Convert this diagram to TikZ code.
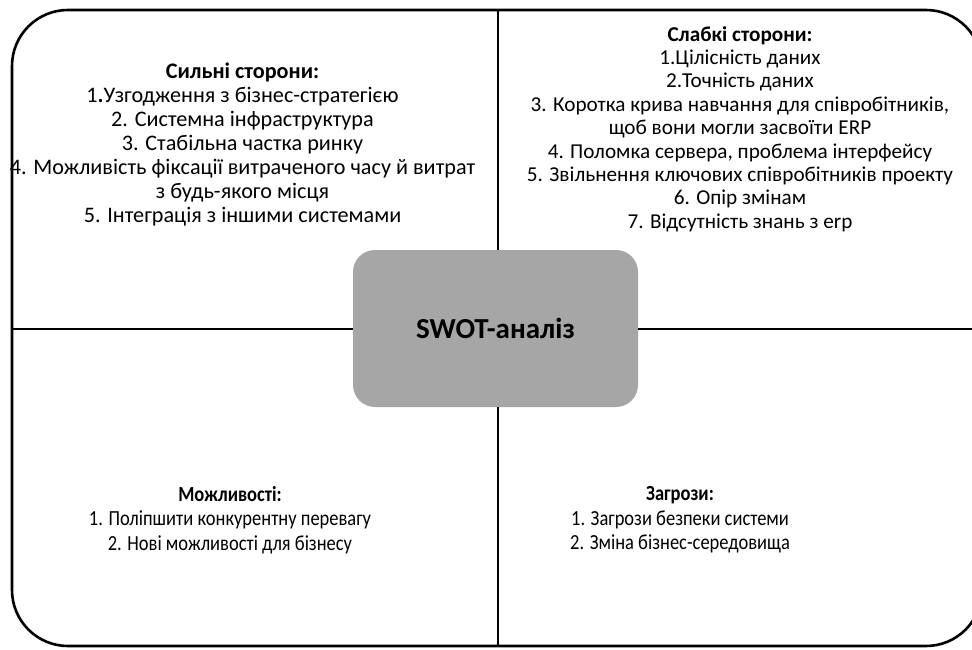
\documentclass[tikz,border=0pt]{standalone}
\usepackage{fontspec}
\setmainfont{Carlito}
\newfontfamily\narrowfont[FakeStretch=0.86]{Carlito}
\definecolor{boxgray}{HTML}{A6A6A6}
\begin{document}
\begin{tikzpicture}[x=1pt,y=-1pt,
  frameline/.style={line width=2.6pt, rounded corners=56pt},
  divider/.style={line width=2.2pt},
  lefttext/.style={align=center, inner sep=0pt, font=\fontsize{22.2}{24}\selectfont},
  righttext/.style={align=center, inner sep=0pt, font=\fontsize{21.2}{23.4}\selectfont},
  narrowtext/.style={align=center, inner sep=0pt, font=\narrowfont\fontsize{21.5}{24.5}\selectfont},
  centerbox/.style={fill=boxgray, rounded corners=22pt, minimum width=285pt,
    minimum height=157pt, inner sep=0pt, font=\bfseries\fontsize{29}{32}\selectfont}]
\useasboundingbox (0,0) rectangle (972,650);

% outer frame (its right side runs past the page edge)
\begin{scope}
  \clip (0,0) rectangle (972,650);
  \draw[frameline] (12,10) rectangle (982,646);
\end{scope}

% central box
\node[centerbox] (swot) at (495.5,328.5) {SWOT-аналіз};

% ends of the dividing lines on the frame
\coordinate (ftop) at (498,10);
\coordinate (fbottom) at (498,646);
\coordinate (fleft) at (12,329);
\coordinate (fright) at (972,329);

\draw[divider] (ftop) -- (ftop |- swot.north);
\draw[divider] (fbottom) -- (fbottom |- swot.south);
\draw[divider] (fleft) -- (fleft -| swot.west);
\draw[divider] (fright) -- (fright -| swot.east);

% quadrant texts
\node[lefttext] (strengths) at (242.5,145) {\textbf{Сильні сторони:}\\
1\textbf{.}Узгодження з бізнес-стратегією\\
2. Системна інфраструктура\\
3. Стабільна частка ринку\\
4. Можливість фіксації витраченого часу й витрат\\
з будь-якого місця\\
5. Інтеграція з іншими системами};

\node[righttext] (weaknesses) at (740,129) {\textbf{Слабкі сторони:}\\
1.Цілісність даних\\
2.Точність даних\\
3. Коротка крива навчання для співробітників,\\
щоб вони могли засвоїти ERP\\
4. Поломка сервера, проблема інтерфейсу\\
5. Звільнення ключових співробітників проекту\\
6. Опір змінам\\
7. Відсутність знань з erp};

\node[narrowtext] (opportunities) at (230,520) {\textbf{Можливості:}\\
1. Поліпшити конкурентну перевагу\\
2. Нові можливості для бізнесу};

\node[narrowtext] (threats) at (680,520) {\textbf{Загрози:}\\
1. Загрози безпеки системи\\
2. Зміна бізнес-середовища};
\end{tikzpicture}
\end{document}
